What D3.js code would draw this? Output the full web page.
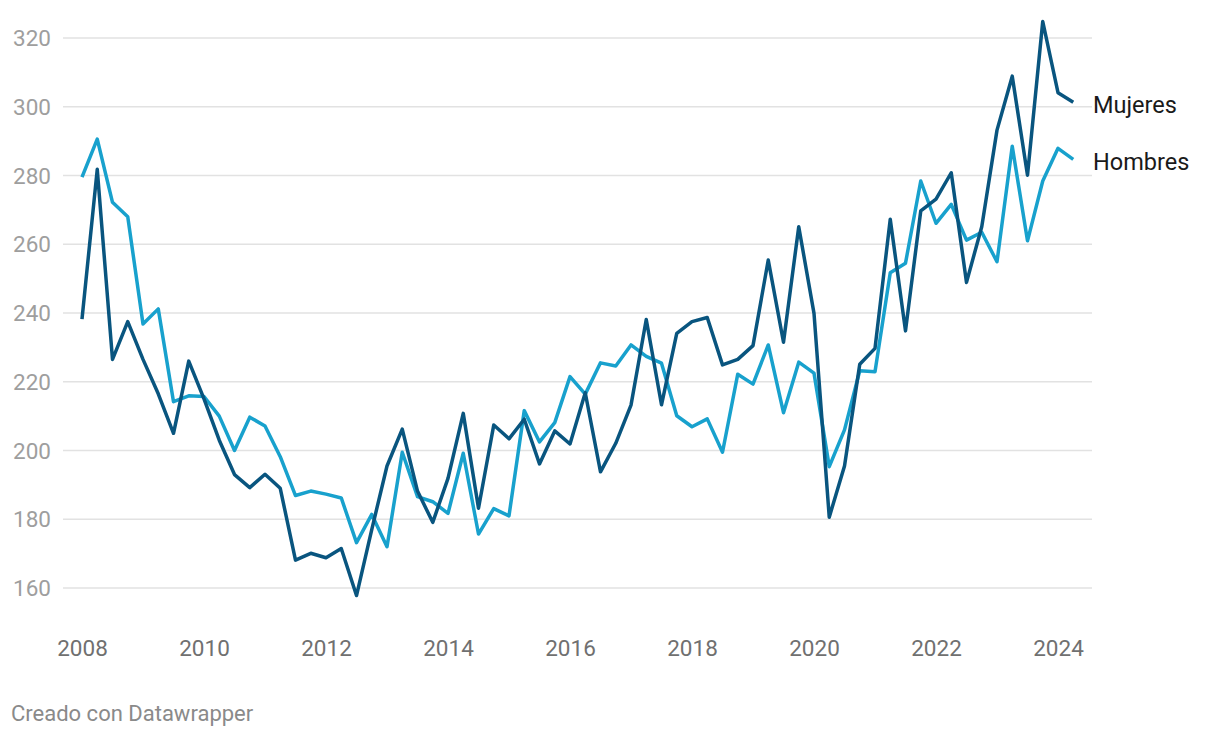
<!DOCTYPE html>
<html>
<head>
<meta charset="utf-8">
<script src="https://cdn.jsdelivr.net/npm/d3@7"></script>
<style>
  html, body { margin: 0; padding: 0; background: #fff; }
  svg { display: block; font-family: Roboto, "Noto Sans", sans-serif; }
</style>
</head>
<body>
<svg id="chart" width="1220" height="738"></svg>
<script>
// ---- Data (quarterly, 2008 Q1 – 2024 Q2) ----
const startYear = 2008;
const hombres = [
  279.5, 290.6, 272.2, 268.0, 236.8, 241.2, 214.2, 215.9,
  215.7, 210.0, 200.0, 209.7, 207.1, 198.2, 186.9, 188.2,
  187.3, 186.2, 173.2, 181.4, 172.0, 199.5, 186.6, 185.1,
  181.7, 199.2, 175.7, 183.1, 181.0, 211.6, 202.5, 208.1,
  221.5, 216.4, 225.5, 224.6, 230.7, 227.4, 225.4, 210.1,
  206.9, 209.2, 199.5, 222.2, 219.3, 230.7, 211.0, 225.7,
  222.5, 195.3, 206.0, 223.2, 222.9, 251.7, 254.5, 278.4,
  266.1, 271.6, 261.2, 263.5, 254.9, 288.5, 261.0, 278.4,
  287.9, 284.7
];
const mujeres = [
  238.2, 281.8, 226.5, 237.5, 226.5, 216.5, 205.0, 226.0,
  215.0, 203.0, 193.0, 189.2, 193.1, 189.0, 168.1, 170.1,
  168.8, 171.5, 157.8, 177.0, 195.5, 206.2, 188.2, 179.1,
  191.9, 210.8, 183.2, 207.4, 203.4, 209.1, 196.1, 205.7,
  201.9, 216.8, 193.8, 202.1, 213.2, 238.1, 213.3, 234.1,
  237.5, 238.7, 224.9, 226.5, 230.5, 255.4, 231.5, 265.1,
  239.9, 180.6, 195.5, 225.1, 229.7, 267.3, 234.8, 269.7,
  273.1, 280.8, 248.9, 265.1, 293.2, 308.9, 280.1, 324.8,
  304.1, 301.3
];
const seriesNames = ["Hombres", "Mujeres"];
const yTicks = [160, 180, 200, 220, 240, 260, 280, 300, 320];
const xTicks = [2008, 2010, 2012, 2014, 2016, 2018, 2020, 2022, 2024];
const footer = "Creado con Datawrapper";

// ---- Layout ----
const svg = d3.select("#chart");
const colors = { Hombres: "#18a1cd", Mujeres: "#09557f" };
const timeOf = i => startYear + i / 4;
const lastT = timeOf(hombres.length - 1);

const x = d3.scaleLinear().domain([startYear, lastT]).range([82, 1073.25]);
const y = d3.scaleLinear().domain([160, 320]).range([588, 38]);

// Grid lines + y labels
const gridG = svg.append("g");
gridG.selectAll("line").data(yTicks).join("line")
  .attr("x1", 63).attr("x2", 1092)
  .attr("y1", d => y(d)).attr("y2", d => y(d))
  .attr("stroke", "#e2e2e2").attr("stroke-width", 1.3);

gridG.selectAll("text").data(yTicks).join("text")
  .attr("x", 51).attr("y", d => y(d))
  .attr("dy", "0.36em")
  .attr("text-anchor", "end")
  .attr("font-size", 22.5)
  .attr("fill", "#9e9e9e")
  .text(d => d);

// X axis labels
const xAxis = d3.axisBottom(x).tickValues(xTicks).tickFormat(d3.format("d")).tickSize(0).tickPadding(0);
const xg = svg.append("g").attr("transform", "translate(0,640)").call(xAxis);
xg.select(".domain").remove();
xg.selectAll("text")
  .attr("font-family", "Roboto, sans-serif")
  .attr("font-size", 22.5)
  .attr("fill", "#707070")
  .attr("dy", "0.71em");

// Lines
const line = d3.line().x((d, i) => x(timeOf(i))).y(d => y(d));
const data = { Hombres: hombres, Mujeres: mujeres };
seriesNames.forEach(name => {
  svg.append("path")
    .datum(data[name])
    .attr("fill", "none")
    .attr("stroke", colors[name])
    .attr("stroke-width", 3.5)
    .attr("stroke-linejoin", "round")
    .attr("stroke-linecap", "butt")
    .attr("d", line);
});

// Series labels
seriesNames.forEach(name => {
  const arr = data[name];
  svg.append("text")
    .attr("x", 1093)
    .attr("y", y(arr[arr.length - 1]))
    .attr("dy", "0.45em")
    .attr("font-size", 23.5)
    .attr("fill", "#1a1a1a")
    .text(name);
});

// Footer
svg.append("text")
  .attr("x", 11).attr("y", 721)
  .attr("font-size", 22)
  .attr("fill", "#8a8a8a")
  .text(footer);
</script>
</body>
</html>
